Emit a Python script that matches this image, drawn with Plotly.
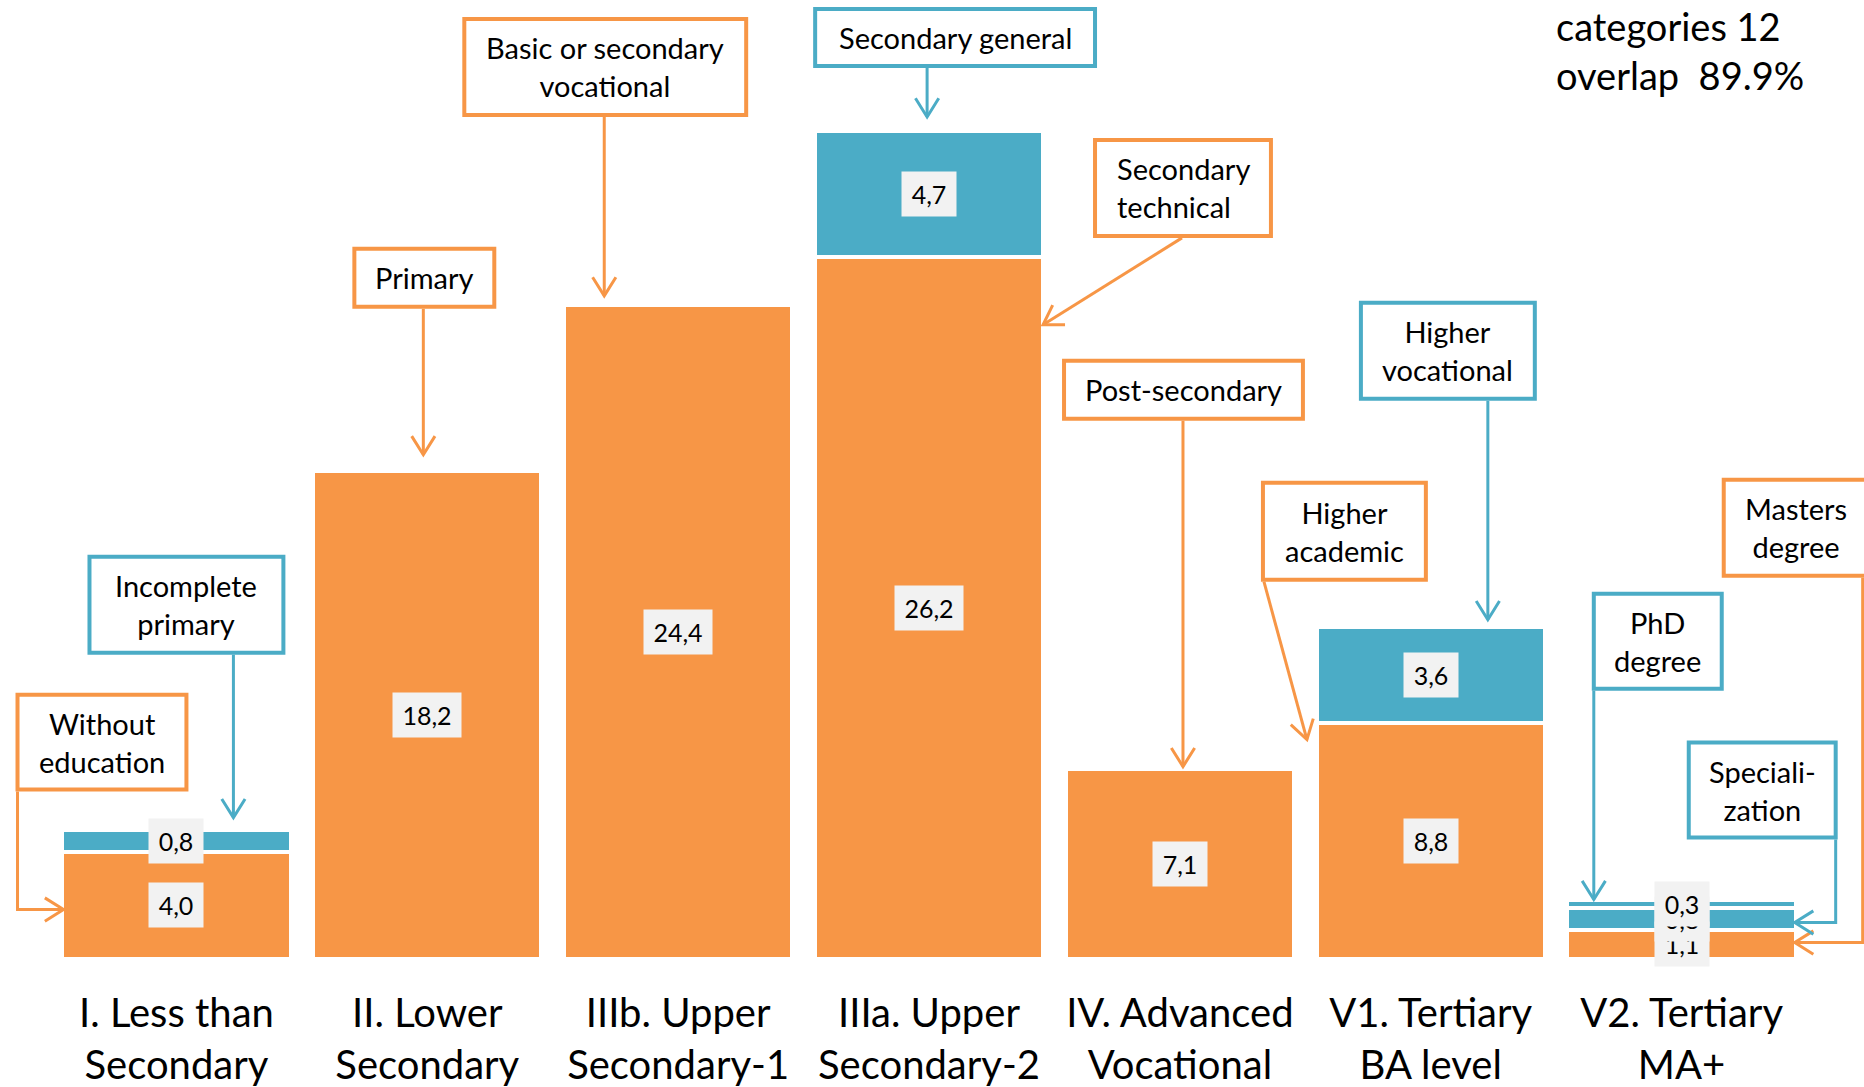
import math
import plotly.graph_objects as go

# Education level groups (x axis) and shares of each sub-level, in %
categories = [
    "I. Less than<br>Secondary",
    "II. Lower<br>Secondary",
    "IIIb. Upper<br>Secondary-1",
    "IIIa. Upper<br>Secondary-2",
    "IV. Advanced<br>Vocational",
    "V1. Tertiary<br>BA level",
    "V2. Tertiary<br>MA+",
]
lower_share = [4.0, 18.2, 24.4, 26.2, 7.1, 8.8, 1.1]
middle_share = [0.8, None, None, 4.7, None, 3.6, 0.8]
upper_share = [None, None, None, None, None, None, 0.3]

n_categories = 12
overlap_pct = 89.9

ORANGE = "#F79646"
BLUE = "#4BACC6"
FONT = "Lato"

W, H = 1864, 1087
L, R, T, B = 50.5, 56.7, 0, 127.5
PW = W - L - R
PH = H - T - B
PX_PER_UNIT = 26.8


def px(x):
    return (x - L) / PW


def py(y):
    return (H - B - y) / PH


fig = go.Figure()
for vals, color in ((lower_share, ORANGE), (middle_share, BLUE), (upper_share, BLUE)):
    fig.add_trace(go.Bar(
        x=categories, y=vals,
        marker=dict(color=color, line=dict(color="white", width=4)),
        hoverinfo="skip", showlegend=False,
    ))

annotations = []

# value boxes centred on each stacked segment
base = [0.0] * len(categories)
for vals in (lower_share, middle_share, upper_share):
    for i, v in enumerate(vals):
        if v is None:
            continue
        txt = f"{v:.1f}".replace(".", ",")
        annotations.append(dict(
            x=categories[i], y=base[i] + v / 2, xref="x", yref="y",
            text=txt, showarrow=False, bgcolor="#F2F2F2",
            width=14 * len(txt) + 12, height=44, borderpad=0,
            font=dict(family=FONT, size=25, color="black"),
            xanchor="center", yanchor="middle",
        ))
        base[i] += v

# callout boxes: label, colour, box (left, top, right, bottom), leader path, alignment
callouts = [
    ("Without<br>education", ORANGE, (15, 693, 188, 792), [(17, 792), (17, 910), (63, 910)], "center"),
    ("Incomplete<br>primary", BLUE, (87, 555, 285, 655), [(233, 655), (233, 818)], "center"),
    ("Primary", ORANGE, (352, 247, 496, 309), [(423, 309), (423, 455)], "center"),
    ("Basic or secondary<br>vocational", ORANGE, (462, 17, 748, 117), [(604, 117), (604, 296)], "center"),
    ("Secondary general", BLUE, (813, 7, 1097, 68), [(927, 68), (927, 117)], "center"),
    ("Secondary<br>technical", ORANGE, (1093, 138, 1273, 238), [(1182, 238), (1043, 325)], "left"),
    ("Post-secondary", ORANGE, (1062, 359, 1305, 421), [(1183, 421), (1183, 767)], "center"),
    ("Higher<br>academic", ORANGE, (1261, 481, 1428, 582), [(1264, 582), (1307, 740)], "center"),
    ("Higher<br>vocational", BLUE, (1359, 301, 1537, 401), [(1488, 401), (1488, 620)], "center"),
    ("Masters<br>degree", ORANGE, (1722, 478, 1870, 578), [(1863, 578), (1863, 943), (1795, 943)], "center"),
    ("PhD<br>degree", BLUE, (1592, 592, 1724, 691), [(1594, 691), (1594, 900)], "center"),
    ("Speciali-<br>zation", BLUE, (1687, 741, 1838, 840), [(1836, 840), (1836, 923), (1795, 923)], "center"),
]

shapes = []
ARM, ANGLE = 22, math.radians(32)
for text, color, (x0, y0, x1, y1), path, align in callouts:
    d = "M " + " L ".join(f"{px(x)},{py(y)}" for x, y in path)
    shapes.append(dict(type="path", path=d, xref="paper", yref="paper",
                       line=dict(color=color, width=3)))
    # open chevron at the tip
    (ax, ay), (tx, ty) = path[-2], path[-1]
    ang = math.atan2(ty - ay, tx - ax)
    pts = []
    for s in (1, -1):
        a = ang + math.pi + s * ANGLE
        pts.append((tx + ARM * math.cos(a), ty + ARM * math.sin(a)))
    chev = f"M {px(pts[0][0])},{py(pts[0][1])} L {px(tx)},{py(ty)} L {px(pts[1][0])},{py(pts[1][1])}"
    shapes.append(dict(type="path", path=chev, xref="paper", yref="paper",
                       line=dict(color=color, width=3)))
    shapes.append(dict(type="rect", xref="paper", yref="paper",
                       x0=px(x0 + 2), x1=px(x1 - 2), y0=py(y1 - 2), y1=py(y0 + 2),
                       line=dict(color=color, width=4), fillcolor="white"))
    if align == "left":
        annotations.append(dict(
            x=px(1115), y=py((y0 + y1) / 2), xref="paper", yref="paper",
            text=text, showarrow=False, align="left", xanchor="left", yanchor="middle",
            font=dict(family=FONT, size=29, color="black"),
        ))
    else:
        annotations.append(dict(
            x=px((x0 + x1) / 2), y=py((y0 + y1) / 2), xref="paper", yref="paper",
            text=text, showarrow=False, align="center", xanchor="center", yanchor="middle",
            font=dict(family=FONT, size=29, color="black"),
        ))

annotations.append(dict(
    x=px(1554), y=py(1), xref="paper", yref="paper",
    text=f"categories {n_categories}<br>overlap\u00a0 {overlap_pct:.1f}%",
    showarrow=False, align="left", xanchor="left", yanchor="top",
    font=dict(family=FONT, size=38, color="black"),
))

fig.update_layout(
    width=W, height=H,
    margin=dict(l=L, r=R, t=T, b=B, pad=0),
    paper_bgcolor="white", plot_bgcolor="white",
    barmode="stack", bargap=0.09,
    font=dict(family=FONT, color="black"),
    xaxis=dict(showgrid=False, showline=False, zeroline=False, ticks="",
               tickfont=dict(family=FONT, size=40, color="black"),
               ticklabelstandoff=27,
               range=[-0.5, len(categories) - 0.5]),
    yaxis=dict(visible=False, range=[0, (H - B) / PX_PER_UNIT]),
    shapes=shapes,
    annotations=annotations,
)

fig.write_html("out.html")
